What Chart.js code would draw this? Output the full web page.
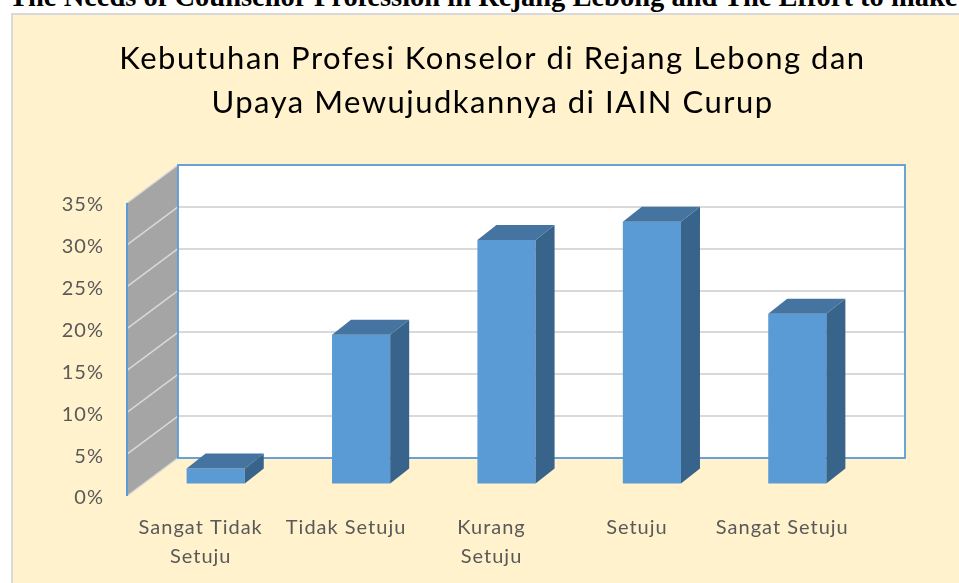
<!DOCTYPE html>
<html>
<head>
<meta charset="utf-8">
<script src="https://cdn.jsdelivr.net/npm/chart.js@4.4.0/dist/chart.umd.min.js"></script>
<style>
  html, body { margin: 0; padding: 0; background: #ffffff; width: 959px; height: 583px; overflow: hidden; }
  #caption { position: absolute; left: 9px; top: -17px; font: bold 28.5px 'Liberation Serif', 'Times New Roman', serif; line-height: 28px; color: #000; white-space: nowrap; }
  #box { position: absolute; left: 11px; top: 13px; width: 1000px; height: 600px; background: #FFF2CC; border: 2px solid #D9D9D9; box-sizing: border-box; }
  #c { position: absolute; left: 0; top: 0; }
</style>
</head>
<body>
<div id="caption">The Needs of Counsellor Profession in Rejang Lebong and The Effort to make</div>
<div id="box"></div>
<canvas id="c" width="959" height="583"></canvas>
<script>
// ---- data ----
const categories = [['Sangat Tidak', 'Setuju'], 'Tidak Setuju', ['Kurang', 'Setuju'], 'Setuju', 'Sangat Setuju'];
const percentValues = [1.9, 17.9, 29.2, 31.4, 20.4];
const yTickValues = [0, 5, 10, 15, 20, 25, 30, 35];
const chartTitle = ['Kebutuhan Profesi Konselor di Rejang Lebong dan', 'Upaya Mewujudkannya di IAIN Curup'];

// ---- 3D look parameters ----
const WALL_DX = -51, WALL_DY = 38;
const BAR_SHIFT_X = -35, BAR_SHIFT_Y = 26.5;
const BAR_DX = 19, BAR_DY = 15;
const FRONT = '#5B9BD5', TOP = '#44749F', SIDE = '#38638A';

const threeD = {
  id: 'threeD',
  afterLayout(chart) {
    chart.scales.y.left = 0;
    const tb = chart.titleBlock;
    if (tb && !tb._wrapped) {
      const orig = tb.draw;
      tb.draw = function () {
        const ctx = this.ctx;
        const prev = ctx.letterSpacing;
        ctx.letterSpacing = '1.5px';
        orig.apply(this, arguments);
        ctx.letterSpacing = prev;
      };
      tb._wrapped = true;
    }
  },
  beforeDraw(chart) {
    const { ctx, chartArea: a } = chart;
    const y = chart.scales.y;
    ctx.letterSpacing = '1px';
    ctx.save();
    ctx.fillStyle = '#FFFFFF';
    ctx.fillRect(a.left, a.top, a.right - a.left, a.bottom - a.top);
    ctx.fillStyle = '#A5A5A5';
    ctx.beginPath();
    ctx.moveTo(a.left, a.top);
    ctx.lineTo(a.left + WALL_DX, a.top + WALL_DY);
    ctx.lineTo(a.left + WALL_DX, a.bottom + WALL_DY);
    ctx.lineTo(a.left, a.bottom);
    ctx.closePath();
    ctx.fill();
    ctx.strokeStyle = '#D9D9D9';
    ctx.lineWidth = 1.5;
    yTickValues.forEach(v => {
      const py = y.getPixelForValue(v);
      ctx.beginPath();
      ctx.moveTo(a.left + WALL_DX, py + WALL_DY);
      ctx.lineTo(a.left, py);
      ctx.stroke();
    });
    ctx.strokeStyle = '#5B9BD5';
    ctx.lineWidth = 2;
    ctx.beginPath();
    ctx.moveTo(a.left + WALL_DX, a.top + WALL_DY);
    ctx.lineTo(a.left + WALL_DX, a.bottom + WALL_DY);
    ctx.stroke();
    ctx.restore();
  },
  beforeDatasetsDraw(chart) {
    const { ctx, chartArea: a } = chart;
    ctx.save();
    ctx.strokeStyle = '#5B9BD5';
    ctx.lineWidth = 1.8;
    ctx.strokeRect(a.left, a.top, a.right - a.left, a.bottom - a.top);
    ctx.restore();
    ctx.save();
    ctx.translate(BAR_SHIFT_X, BAR_SHIFT_Y);
  },
  afterDatasetsDraw(chart) {
    const { ctx } = chart;
    const meta = chart.getDatasetMeta(0);
    meta.data.forEach(el => {
      const l = el.x - el.width / 2, r = el.x + el.width / 2, t = el.y, b = el.base;
      ctx.fillStyle = SIDE;
      ctx.beginPath();
      ctx.moveTo(r, t); ctx.lineTo(r + BAR_DX, t - BAR_DY);
      ctx.lineTo(r + BAR_DX, b - BAR_DY); ctx.lineTo(r, b);
      ctx.closePath(); ctx.fill();
      ctx.fillStyle = TOP;
      ctx.beginPath();
      ctx.moveTo(l, t); ctx.lineTo(l + BAR_DX, t - BAR_DY);
      ctx.lineTo(r + BAR_DX, t - BAR_DY); ctx.lineTo(r, t);
      ctx.closePath(); ctx.fill();
    });
    ctx.restore();
  }
};

const FONT = 'Lato, Carlito, Calibri, sans-serif';

new Chart(document.getElementById('c'), {
  type: 'bar',
  data: {
    labels: categories,
    datasets: [{
      data: percentValues,
      backgroundColor: FRONT,
      borderWidth: 0,
      categoryPercentage: 1,
      barPercentage: 0.4,
      clip: false
    }]
  },
  options: {
    responsive: false,
    animation: false,
    layout: { padding: { left: 80, right: 54, top: 0, bottom: 0 } },
    plugins: {
      legend: { display: false },
      tooltip: { enabled: false },
      title: {
        display: true,
        text: chartTitle,
        color: '#000000',
        font: { family: FONT, size: 31, weight: 'normal', lineHeight: 44 / 31 },
        padding: { top: 37, bottom: 40 }
      }
    },
    scales: {
      x: {
        grid: { display: false, drawTicks: false },
        border: { display: false },
        ticks: {
          color: '#595959',
          font: { family: FONT, size: 20, lineHeight: 1.45 },
          padding: 55,
          labelOffset: -50,
          maxRotation: 0,
          autoSkip: false
        },
        afterFit(s) { s.height = 125; }
      },
      y: {
        min: 0, max: 35,
        grid: { color: '#D9D9D9', lineWidth: 2, drawTicks: false },
        border: { display: false },
        ticks: {
          stepSize: 5,
          color: '#595959',
          font: { family: FONT, size: 20 },
          padding: 74,
          labelOffset: 40,
          callback: v => v + '%'
        },
        afterFit(s) { s.width = 98; }
      }
    }
  },
  plugins: [threeD]
});
</script>
</body>
</html>
